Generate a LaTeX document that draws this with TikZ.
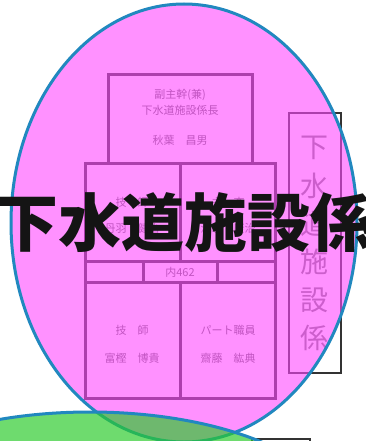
\documentclass[tikz,border=0pt]{standalone}
\usepackage{fontspec}
\newfontfamily\jpfont{Noto Sans CJK JP}
\definecolor{blobpink}{RGB}{255,72,255}
\definecolor{blobgreen}{RGB}{42,203,42}
\definecolor{rimblue}{RGB}{33,136,191}
\tikzset{
  chartbox/.style={draw=black!80, line width=3pt},
  thinbox/.style={draw=black!80, line width=1.5pt, fill=white},
  blobrim/.style={draw=rimblue, line width=3pt}
}

\begin{document}
\begin{tikzpicture}[x=1pt,y=-1pt]

  % --- styles ---
  \tikzset{
    chartlbl/.style={font=\jpfont\fontsize{11}{13}\selectfont, text=black!60, inner sep=0pt},
    sidechar/.style={font=\jpfont\fontsize{28}{30}\selectfont, text=black!50, inner sep=0pt},
    bigtitle/.style={font=\jpfont\bfseries\fontsize{63}{66}\selectfont, text=black!92, inner sep=0pt},
  }

  % --- background ---
  \useasboundingbox (0,0) rectangle (365,441);
  \clip (0,0) rectangle (365,441);
  \fill[white] (0,0) rectangle (365,441);

  % =========================
  %  ORGANISATION CHART
  % =========================

  \draw[chartbox] (108,75) rectangle (252,163);
  \draw[chartbox] (85,163) rectangle (180,261);
  \draw[chartbox] (180,163) rectangle (275,261);
  \draw[chartbox] (85,261) rectangle (143,282);
  \draw[chartbox] (143,261) rectangle (217,282);
  \draw[chartbox] (217,261) rectangle (275,282);
  \draw[chartbox] (85,282) rectangle (180,398);
  \draw[chartbox] (180,282) rectangle (275,398);

  \node[chartlbl] (chiefrole) at (180,95) {副主幹(兼)};
  \node[chartlbl] (chiefpost) at (180,110) {下水道施設係長};
  \node[chartlbl] (chiefname) at (180,140) {秋葉　昌男};

  \node[chartlbl] (midlrole) at (132,202) {技　師};
  \node[chartlbl] (midlname) at (132,228) {丹羽　健治};
  \node[chartlbl] (midrrole) at (228,202) {主　査};
  \node[chartlbl] (midrname) at (228,228) {清水　康治};

  \node[chartlbl] (phone) at (180,272) {内462};

  \node[chartlbl] (botlrole) at (132,330) {技　師};
  \node[chartlbl] (botlname) at (132,358) {富樫　博貴};
  \node[chartlbl] (botrrole) at (228,330) {パート職員};
  \node[chartlbl] (botrname) at (228,358) {齋藤　紘典};

  % --- side label & lower box ---
  \draw[thinbox] (289,113) rectangle (341,373);
  \foreach \ch [count=\i] in {下,水,道,施,設,係}
    \node[sidechar] (side\i) at (314,{148+38*(\i-1)}) {\ch};

  \draw[thinbox] (252,439) rectangle (310,470);

  % =========================
  %  OVERLAID BLOBS
  % =========================

  \fill[blobpink, fill opacity=0.6] (184,223) ellipse [x radius=173, y radius=219];
  \draw[blobrim] (184,223) ellipse [x radius=173, y radius=219];

  \fill[blobgreen, fill opacity=0.68] (90,522) ellipse [x radius=250, y radius=110];
  \draw[blobrim] (90,522) ellipse [x radius=250, y radius=110];

  % --- title ---
  \node[bigtitle, anchor=west] (title) at (-5,223) {下水道施設係};

\end{tikzpicture}
\end{document}
